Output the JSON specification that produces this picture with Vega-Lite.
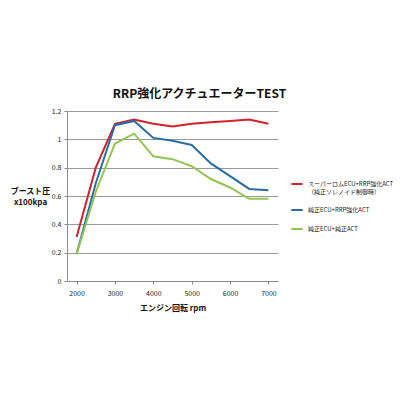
{
  "$schema": "https://vega.github.io/schema/vega-lite/v6.json",
  "autosize": "none",
  "width": 211,
  "height": 170,
  "padding": {"left": 67, "top": 111, "right": 122, "bottom": 119},
  "background": "white",
  "title": {
    "text": "RRP強化アクチュエーターTEST",
    "font": "Noto Sans CJK JP",
    "fontSize": 12,
    "fontWeight": "bold",
    "color": "#111111",
    "anchor": "middle",
    "dx": 27,
    "offset": 6
  },
  "config": {
    "view": {"stroke": null},
    "font": "Noto Sans CJK JP",
    "axis": {
      "labelFont": "Noto Sans CJK JP",
      "labelFontSize": 7,
      "labelColor": "#222222",
      "domainColor": "#8c8c8c",
      "tickColor": "#8c8c8c",
      "gridColor": "#9a9a9a",
      "titleFont": "Noto Sans CJK JP",
      "titleFontSize": 8,
      "titleFontWeight": "bold",
      "titleColor": "#111111"
    }
  },
  "data": {
    "values": [
      {"rpm": 2000, "boost": 0.31, "series": "スーパーロムECU+RRP強化ACT"},
      {"rpm": 2500, "boost": 0.80, "series": "スーパーロムECU+RRP強化ACT"},
      {"rpm": 3000, "boost": 1.11, "series": "スーパーロムECU+RRP強化ACT"},
      {"rpm": 3500, "boost": 1.14, "series": "スーパーロムECU+RRP強化ACT"},
      {"rpm": 4000, "boost": 1.11, "series": "スーパーロムECU+RRP強化ACT"},
      {"rpm": 4500, "boost": 1.09, "series": "スーパーロムECU+RRP強化ACT"},
      {"rpm": 5000, "boost": 1.11, "series": "スーパーロムECU+RRP強化ACT"},
      {"rpm": 5500, "boost": 1.12, "series": "スーパーロムECU+RRP強化ACT"},
      {"rpm": 6000, "boost": 1.13, "series": "スーパーロムECU+RRP強化ACT"},
      {"rpm": 6500, "boost": 1.14, "series": "スーパーロムECU+RRP強化ACT"},
      {"rpm": 7000, "boost": 1.11, "series": "スーパーロムECU+RRP強化ACT"},
      {"rpm": 2000, "boost": 0.19, "series": "純正ECU+RRP強化ACT"},
      {"rpm": 2500, "boost": 0.69, "series": "純正ECU+RRP強化ACT"},
      {"rpm": 3000, "boost": 1.10, "series": "純正ECU+RRP強化ACT"},
      {"rpm": 3500, "boost": 1.13, "series": "純正ECU+RRP強化ACT"},
      {"rpm": 4000, "boost": 1.01, "series": "純正ECU+RRP強化ACT"},
      {"rpm": 4500, "boost": 0.99, "series": "純正ECU+RRP強化ACT"},
      {"rpm": 5000, "boost": 0.96, "series": "純正ECU+RRP強化ACT"},
      {"rpm": 5500, "boost": 0.83, "series": "純正ECU+RRP強化ACT"},
      {"rpm": 6000, "boost": 0.74, "series": "純正ECU+RRP強化ACT"},
      {"rpm": 6500, "boost": 0.65, "series": "純正ECU+RRP強化ACT"},
      {"rpm": 7000, "boost": 0.64, "series": "純正ECU+RRP強化ACT"},
      {"rpm": 2000, "boost": 0.19, "series": "純正ECU+純正ACT"},
      {"rpm": 2500, "boost": 0.63, "series": "純正ECU+純正ACT"},
      {"rpm": 3000, "boost": 0.97, "series": "純正ECU+純正ACT"},
      {"rpm": 3500, "boost": 1.04, "series": "純正ECU+純正ACT"},
      {"rpm": 4000, "boost": 0.88, "series": "純正ECU+純正ACT"},
      {"rpm": 4500, "boost": 0.86, "series": "純正ECU+純正ACT"},
      {"rpm": 5000, "boost": 0.81, "series": "純正ECU+純正ACT"},
      {"rpm": 5500, "boost": 0.72, "series": "純正ECU+純正ACT"},
      {"rpm": 6000, "boost": 0.66, "series": "純正ECU+純正ACT"},
      {"rpm": 6500, "boost": 0.58, "series": "純正ECU+純正ACT"},
      {"rpm": 7000, "boost": 0.58, "series": "純正ECU+純正ACT"}
    ]
  },
  "mark": {"type": "line", "strokeWidth": 2},
  "encoding": {
    "x": {
      "field": "rpm",
      "type": "quantitative",
      "scale": {"domain": [1750, 7250], "nice": false, "zero": false},
      "axis": {
        "title": "エンジン回転 rpm",
        "values": [2000, 3000, 4000, 5000, 6000, 7000],
        "format": "d",
        "grid": false,
        "tickSize": 3,
        "labelPadding": 5,
        "titlePadding": 8
      }
    },
    "y": {
      "field": "boost",
      "type": "quantitative",
      "scale": {"domain": [0, 1.2], "nice": false},
      "axis": {
        "title": ["ブースト圧", "x100kpa"],
        "titleAngle": 0,
        "titleAlign": "center",
        "titleBaseline": "middle",
        "titleX": -37,
        "titleY": 80,
        "titleLineHeight": 11,
        "values": [0, 0.2, 0.4, 0.6, 0.8, 1, 1.2],
        "format": "~g",
        "tickSize": 3,
        "labelPadding": 3
      }
    },
    "color": {
      "field": "series",
      "type": "nominal",
      "scale": {
        "domain": ["スーパーロムECU+RRP強化ACT", "純正ECU+RRP強化ACT", "純正ECU+純正ACT"],
        "range": ["#d0232c", "#2a6ca6", "#94c455"]
      },
      "legend": {
        "title": null,
        "orient": "none",
        "legendX": 223,
        "legendY": 66,
        "symbolType": "stroke",
        "symbolSize": 130,
        "symbolStrokeWidth": 2,
        "labelFont": "Noto Sans CJK JP",
        "labelFontSize": 6,
        "labelColor": "#222222",
        "labelLimit": 200,
        "labelOffset": 4,
        "rowPadding": 8,
        "labelExpr": "datum.label == 'スーパーロムECU+RRP強化ACT' ? ['スーパーロムECU+RRP強化ACT', '（純正ソレノイド制御時）'] : datum.label"
      }
    }
  }
}
